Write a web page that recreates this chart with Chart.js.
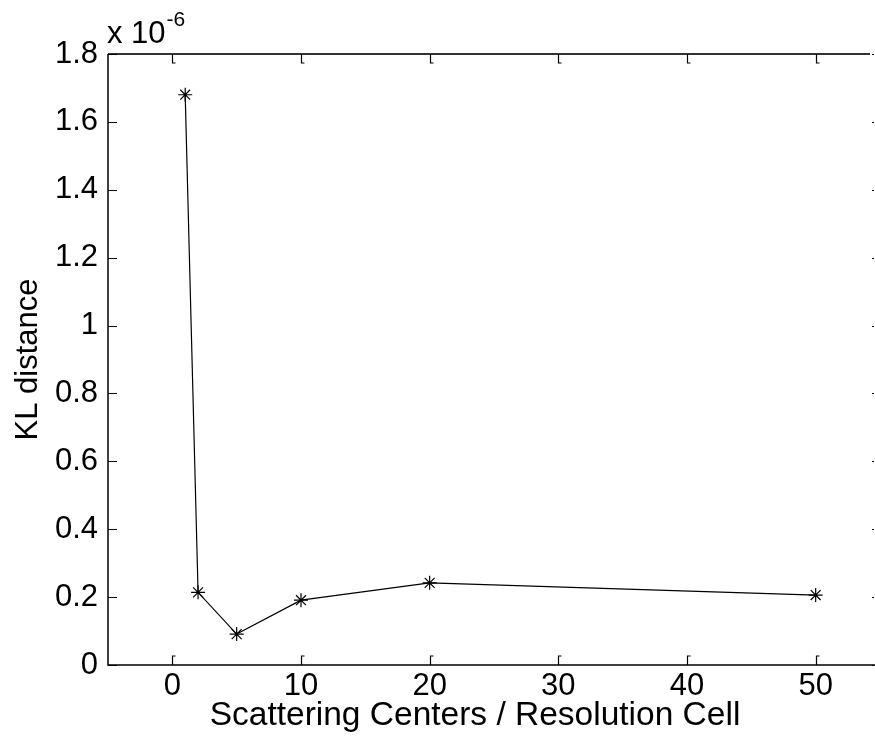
<!DOCTYPE html>
<html>
<head>
<meta charset="utf-8">
<script src="https://cdn.jsdelivr.net/npm/chart.js@4/dist/chart.umd.min.js"></script>
<style>
  html, body { margin: 0; padding: 0; background: #fff; }
  #wrap { width: 875px; height: 748px; overflow: hidden; position: relative; }
  #c { display: block; }
</style>
</head>
<body>
<div id="wrap"><canvas id="c" width="890" height="748"></canvas></div>
<script>
// Scattering centres per resolution cell and the KL distance (in units of 1e-6)
const scatterCenters = [1, 2, 5, 10, 20, 50];
const klDistance = [1.68, 0.214, 0.091, 0.191, 0.242, 0.206];
const xTickValues = [0, 10, 20, 30, 40, 50];
const yTickValues = [0, 0.2, 0.4, 0.6, 0.8, 1, 1.2, 1.4, 1.6, 1.8];
const xLabel = 'Scattering Centers / Resolution Cell';
const yLabel = 'KL distance';
const yExponent = '-6';

const FONT = '"Liberation Sans", Arial, Helvetica, sans-serif';

// Box frame with inward tick marks, axis titles and the exponent note
const framePlugin = {
  id: 'frame',
  afterDraw(chart) {
    const ctx = chart.ctx;
    const a = chart.chartArea;
    const xs = chart.scales.x, ys = chart.scales.y;
    const tl = 9, hook = 3;
    ctx.save();
    ctx.strokeStyle = '#000';
    ctx.lineWidth = 1.5;
    ctx.beginPath();
    ctx.moveTo(a.left, a.top); ctx.lineTo(a.left, a.bottom);
    ctx.lineTo(a.right, a.bottom);
    ctx.stroke();
    ctx.strokeStyle = '#333';
    ctx.lineWidth = 2;
    ctx.beginPath();
    ctx.moveTo(a.left, a.top); ctx.lineTo(a.right - 10, a.top);
    ctx.stroke();

    ctx.strokeStyle = '#000';
    ctx.lineWidth = 1.2;
    ctx.beginPath();
    xTickValues.forEach(v => {
      const px = Math.round(xs.getPixelForValue(v)) + 0.5;
      ctx.moveTo(px, a.bottom); ctx.lineTo(px, a.bottom - tl); ctx.lineTo(px + hook, a.bottom - tl);
      ctx.moveTo(px, a.top); ctx.lineTo(px, a.top + tl); ctx.lineTo(px + hook, a.top + tl);
    });
    yTickValues.forEach(v => {
      const py = Math.round(ys.getPixelForValue(v)) + 0.5;
      ctx.moveTo(a.left, py); ctx.lineTo(a.left + tl, py);
      ctx.moveTo(a.right - tl + 1, py); ctx.lineTo(a.right - tl + 3, py);
    });
    ctx.stroke();

    ctx.fillStyle = '#000';
    ctx.font = '33.5px ' + FONT;
    ctx.textAlign = 'center';
    ctx.textBaseline = 'alphabetic';
    ctx.fillText(xLabel, 475, 725);

    ctx.font = '31px ' + FONT;
    ctx.save();
    ctx.translate(37, (a.top + a.bottom) / 2);
    ctx.rotate(-Math.PI / 2);
    ctx.fillText(yLabel, 0, 0);
    ctx.restore();

    ctx.textAlign = 'left';
    ctx.fillText('x 10', a.left - 1, 43);
    const w = ctx.measureText('x 10').width;
    ctx.font = '21px ' + FONT;
    ctx.fillText(yExponent, a.left - 1 + w + 1, 26);
    ctx.restore();
  }
};

new Chart(document.getElementById('c'), {
  type: 'scatter',
  data: {
    datasets: [{
      data: scatterCenters.map((x, i) => ({ x: x, y: klDistance[i] })),
      showLine: true,
      borderColor: '#000',
      borderWidth: 1.2,
      backgroundColor: '#000',
      pointStyle: 'star',
      pointRadius: 7,
      pointBorderWidth: 1.2,
      pointBorderColor: '#000',
      tension: 0
    }]
  },
  options: {
    responsive: false,
    animation: false,
    events: [],
    layout: { padding: { top: 54, right: 10, left: 0, bottom: 0 } },
    plugins: { legend: { display: false }, tooltip: { enabled: false } },
    scales: {
      x: {
        type: 'linear',
        min: -5,
        max: 55,
        afterBuildTicks: s => { s.ticks = xTickValues.map(v => ({ value: v })); },
        afterFit: s => { s.height = 83; },
        grid: { display: false, drawTicks: false },
        border: { display: false },
        ticks: {
          color: '#000',
          padding: 3,
          font: { family: FONT, size: 31 },
          maxRotation: 0,
          callback: v => String(v)
        }
      },
      y: {
        type: 'linear',
        min: 0,
        max: 1.8,
        afterBuildTicks: s => { s.ticks = yTickValues.map(v => ({ value: v })); },
        afterFit: s => { s.width = 108; },
        grid: { display: false, drawTicks: false },
        border: { display: false },
        ticks: {
          color: '#000',
          padding: 10,
          font: { family: FONT, size: 31 },
          callback: v => String(Math.round(v * 10) / 10)
        }
      }
    }
  },
  plugins: [framePlugin]
});
</script>
</body>
</html>
